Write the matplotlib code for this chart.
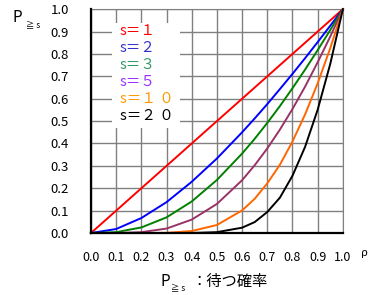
import matplotlib.pyplot as plt
import matplotlib.patches as patches

plt.rcParams['font.family'] = ['Noto Sans CJK JP', 'DejaVu Sans']

# ρ values
rho = [0.0, 0.1, 0.2, 0.3, 0.4, 0.5, 0.6, 0.65, 0.7, 0.75, 0.8, 0.85, 0.9, 0.95, 1.0]

# P(wait) for each number of servers s
p_s1 = [0.0, 0.1, 0.2, 0.3, 0.4, 0.5, 0.6, 0.65, 0.7, 0.75, 0.8, 0.85, 0.9, 0.95, 1.0]
p_s2 = [0.0, 0.018, 0.067, 0.138, 0.229, 0.333, 0.45, 0.512, 0.576, 0.643, 0.711, 0.781, 0.853, 0.926, 1.0]
p_s3 = [0.0, 0.004, 0.025, 0.070, 0.141, 0.237, 0.355, 0.421, 0.492, 0.567, 0.647, 0.730, 0.817, 0.907, 1.0]
p_s5 = [0.0, 0.0002, 0.004, 0.020, 0.060, 0.130, 0.236, 0.303, 0.378, 0.462, 0.554, 0.654, 0.763, 0.878, 1.0]
p_s10 = [0.0, 0.0, 0.0, 0.001, 0.009, 0.036, 0.101, 0.153, 0.222, 0.305, 0.409, 0.530, 0.669, 0.826, 1.0]
p_s20 = [0.0, 0.0, 0.0, 0.0, 0.0003, 0.004, 0.024, 0.049, 0.094, 0.158, 0.256, 0.385, 0.551, 0.756, 1.0]

series = [p_s1, p_s2, p_s3, p_s5, p_s10, p_s20]
line_colors = ['#ff0000', '#0000ff', '#008000', '#993366', '#ff6600', '#000000']
labels = ['s＝１', 's＝２', 's＝３', 's＝５', 's＝１ ０', 's＝２ ０']
label_colors = ['#ff0000', '#3333cc', '#339966', '#9933ff', '#ff9900', '#000000']
ticks = [0.0, 0.1, 0.2, 0.3, 0.4, 0.5, 0.6, 0.7, 0.8, 0.9, 1.0]

fig = plt.figure(figsize=(3.87, 2.95), dpi=100)
ax = fig.add_axes([0.235, 0.21, 0.651, 0.759])

for vals, c in zip(series, line_colors):
    ax.plot(rho, vals, color=c, lw=1.4, zorder=3, clip_on=False)

ax.set_xlim(0, 1)
ax.set_ylim(0, 1)
ax.set_xticks(ticks)
ax.set_yticks(ticks)
ax.set_xticklabels(['%.1f' % t for t in ticks], fontsize=9)
ax.set_yticklabels(['%.1f' % t for t in ticks], fontsize=9.5)
ax.tick_params(length=0)
ax.tick_params(axis='y', pad=16)
ax.tick_params(axis='x', pad=13)
ax.grid(True, color='#808080', lw=1.0, zorder=1)
for side in ['top', 'right']:
    ax.spines[side].set_color('#808080')
for side in ['left', 'bottom']:
    ax.spines[side].set_color('black')
    ax.spines[side].set_linewidth(1.6)
    ax.spines[side].set_zorder(4)

# white legend area
ax.add_patch(patches.Rectangle((0.085, 0.47), 0.27, 0.47, transform=ax.transAxes,
                               facecolor='white', edgecolor='none', zorder=2))
for i, (lab, c) in enumerate(zip(labels, label_colors)):
    fig.text(120 / 387, 1 - (31 + i * 17) / 295, lab, color=c, fontsize=10.5, va='center', ha='left')

# axis labels
fig.text(12 / 387, 1 - 18 / 295, 'P', fontsize=11, va='center', ha='left')
fig.text(26 / 387, 1 - 25 / 295, '≧ s', fontsize=6, va='center', ha='left')
fig.text(361 / 387, 1 - 253 / 295, 'ρ', fontsize=8, va='center', ha='left')
fig.text(160 / 387, 1 - 281 / 295, 'P', fontsize=11, va='center', ha='left')
fig.text(171 / 387, 1 - 288 / 295, '≧ s', fontsize=6, va='center', ha='left')
fig.text(192 / 387, 1 - 281 / 295, '：待つ確率', fontsize=11, va='center', ha='left')

fig.savefig('out.png', dpi=100)
